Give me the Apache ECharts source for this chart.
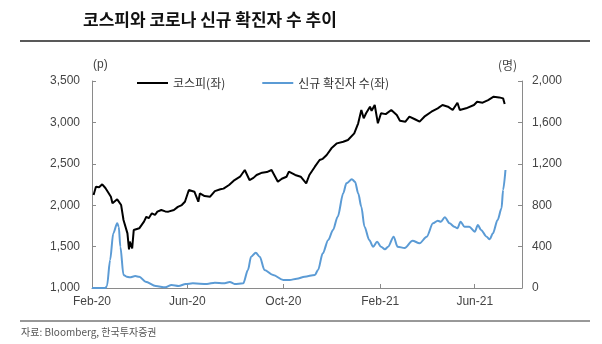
<!DOCTYPE html>
<html>
<head>
<meta charset="utf-8">
<script src="https://cdn.jsdelivr.net/npm/echarts@6/dist/echarts.min.js"></script>
<style>
  html, body { margin: 0; padding: 0; background: #fff; }
  #chart { width: 602px; height: 344px; }
</style>
</head>
<body>
<div id="chart"></div>
<script>
// KOSPI closing level (p)
const kospiDates = [
  '2020-02-03','2020-02-06','2020-02-10','2020-02-14','2020-02-18','2020-02-21','2020-02-25','2020-02-27',
  '2020-03-04','2020-03-09','2020-03-12','2020-03-17','2020-03-19','2020-03-20','2020-03-23','2020-03-25',
  '2020-03-27','2020-04-01','2020-04-07','2020-04-10','2020-04-13','2020-04-17','2020-04-21','2020-04-24',
  '2020-04-29','2020-05-04','2020-05-08','2020-05-15','2020-05-20','2020-05-25','2020-05-29','2020-06-03',
  '2020-06-10','2020-06-15','2020-06-17','2020-06-23','2020-06-30','2020-07-06','2020-07-13','2020-07-17',
  '2020-07-24','2020-07-31','2020-08-07','2020-08-13','2020-08-19','2020-08-24','2020-08-28','2020-09-04',
  '2020-09-10','2020-09-16','2020-09-24','2020-09-29','2020-10-05','2020-10-08','2020-10-16','2020-10-23',
  '2020-10-30','2020-11-03','2020-11-10','2020-11-16','2020-11-20','2020-11-25','2020-12-01','2020-12-08',
  '2020-12-16','2020-12-22','2020-12-30','2021-01-04','2021-01-08','2021-01-11','2021-01-14','2021-01-19',
  '2021-01-21','2021-01-25','2021-01-29','2021-02-02','2021-02-08','2021-02-15','2021-02-22','2021-02-26',
  '2021-03-05','2021-03-10','2021-03-17','2021-03-23','2021-03-29','2021-04-07','2021-04-15','2021-04-21',
  '2021-04-28','2021-05-04','2021-05-10','2021-05-13','2021-05-21','2021-05-31','2021-06-04','2021-06-11',
  '2021-06-18','2021-06-25','2021-07-02','2021-07-07','2021-07-09'
];
const kospiValues = [
  2123, 2223, 2216, 2252, 2208, 2163, 2103, 2023,
  2071, 2002, 1821, 1660, 1467, 1560, 1479, 1700,
  1680, 1721, 1801, 1861, 1842, 1902, 1882, 1922,
  1942, 1925, 1922, 1942, 1980, 2002, 2042, 2184,
  2163, 2042, 2143, 2110, 2103, 2170, 2192, 2200,
  2244, 2304, 2344, 2425, 2304, 2330, 2365, 2393,
  2400, 2425, 2284, 2320, 2344, 2405, 2365, 2344,
  2264, 2365, 2465, 2546, 2560, 2606, 2687, 2747,
  2767, 2787, 2868, 2989, 3149, 3049, 3110, 3190,
  3140, 3210, 2989, 3110, 3100, 3149, 3089, 3020,
  3009, 3069, 3038, 3009, 3069, 3129, 3170, 3210,
  3190, 3149, 3238, 3149, 3170, 3210, 3250, 3238,
  3270, 3310, 3302, 3290, 3222
];

// Daily new confirmed COVID-19 cases (persons)
const caseDates = [
  '2020-02-01','2020-02-18','2020-02-20','2020-02-24','2020-02-28','2020-03-04','2020-03-06','2020-03-08',
  '2020-03-12','2020-03-16','2020-03-20','2020-03-27','2020-04-01','2020-04-09','2020-04-22','2020-05-04',
  '2020-05-12','2020-05-21','2020-05-30','2020-06-08','2020-06-26','2020-07-06','2020-07-17','2020-07-25',
  '2020-07-31','2020-08-11','2020-08-17','2020-08-21','2020-08-27','2020-09-01','2020-09-07','2020-09-18',
  '2020-10-01','2020-10-09','2020-10-18','2020-10-28','2020-11-10','2020-11-14','2020-11-20','2020-11-27',
  '2020-12-03','2020-12-09','2020-12-16','2020-12-20','2020-12-27','2020-12-31','2021-01-04','2021-01-08',
  '2021-01-12','2021-01-18','2021-01-23','2021-01-28','2021-02-02','2021-02-07','2021-02-11','2021-02-18',
  '2021-02-23','2021-03-04','2021-03-14','2021-03-23','2021-04-01','2021-04-09','2021-04-15','2021-04-19',
  '2021-04-24','2021-04-30','2021-05-06','2021-05-10','2021-05-14','2021-05-19','2021-05-25','2021-06-01',
  '2021-06-05','2021-06-09','2021-06-16','2021-06-20','2021-06-24','2021-06-30','2021-07-05','2021-07-07',
  '2021-07-10'
];
const caseValues = [
  0, 0, 20, 270, 528, 625, 592, 399,
  126, 109, 103, 115, 109, 61, 19, 7,
  29, 19, 39, 45, 39, 51, 45, 58,
  39, 45, 174, 302, 341, 302, 174, 126,
  77, 77, 90, 109, 126, 174, 335, 464,
  560, 689, 915, 1011, 1050, 1027, 915, 785,
  592, 464, 399, 447, 399, 374, 399, 496,
  399, 386, 457, 432, 496, 625, 650, 640,
  683, 625, 592, 577, 640, 592, 592, 544,
  609, 560, 496, 470, 528, 657, 770, 947,
  1140
];

// Axis ticks and labels
const leftTicks = [1000, 1500, 2000, 2500, 3000, 3500];
const rightTicks = [0, 400, 800, 1200, 1600, 2000];
const monthTicks = ['2020-02-01', '2020-06-01', '2020-10-01', '2021-02-01', '2021-06-01'];
const monthLabels = ['Feb-20', 'Jun-20', 'Oct-20', 'Feb-21', 'Jun-21'];

const seriesNames = ['코스피(좌)', '신규 확진자 수(좌)'];
const titleText = '코스피와 코로나 신규 확진자 수 추이';
const sourceText = '자료: Bloomberg, 한국투자증권';

const ts = d => new Date(d + 'T00:00:00Z').getTime();
const monthTickTs = monthTicks.map(ts);
const labelOf = {};
monthTickTs.forEach((t, i) => { labelOf[t] = monthLabels[i]; });

const FONT = 'Liberation Sans, Arial, "Noto Sans CJK KR", sans-serif';
const KFONT = '"Noto Sans CJK KR", sans-serif';
const AXIS_GREY = '#8a8a8a';
const TEXT_GREY = '#444';

const chart = echarts.init(document.getElementById('chart'), null, { renderer: 'canvas' });

chart.setOption({
  animation: false,
  backgroundColor: '#fff',
  grid: { left: 92, right: 80, top: 81, bottom: 56 },
  legend: {
    left: 132, top: 72,
    itemWidth: 31, itemHeight: 2, itemGap: 37,
    icon: 'rect',
    textStyle: { fontFamily: KFONT, fontSize: 12, color: '#333' },
    data: seriesNames
  },
  xAxis: {
    type: 'value',
    min: ts('2020-02-01'),
    max: ts('2021-07-31'),
    axisLine: { show: true, lineStyle: { color: AXIS_GREY, width: 1 } },
    axisTick: { show: true, inside: true, length: 4, customValues: monthTickTs, lineStyle: { color: AXIS_GREY } },
    axisLabel: {
      customValues: monthTickTs,
      formatter: v => labelOf[v] || '',
      fontFamily: FONT, fontSize: 12, color: TEXT_GREY, margin: 8
    },
    splitLine: { show: false }
  },
  yAxis: [
    {
      type: 'value', position: 'left',
      min: leftTicks[0], max: leftTicks[leftTicks.length - 1], interval: 500,
      axisLine: { show: true, lineStyle: { color: AXIS_GREY, width: 1 } },
      axisTick: { show: true, inside: true, length: 4, lineStyle: { color: AXIS_GREY } },
      axisLabel: {
        formatter: v => v.toLocaleString('en-US'),
        fontFamily: FONT, fontSize: 12, color: TEXT_GREY, margin: 12
      },
      splitLine: { show: false }
    },
    {
      type: 'value', position: 'right',
      min: rightTicks[0], max: rightTicks[rightTicks.length - 1], interval: 400,
      axisLine: { show: true, lineStyle: { color: AXIS_GREY, width: 1 } },
      axisTick: { show: true, inside: true, length: 4, lineStyle: { color: AXIS_GREY } },
      axisLabel: {
        formatter: v => v.toLocaleString('en-US'),
        fontFamily: FONT, fontSize: 12, color: TEXT_GREY, margin: 10
      },
      splitLine: { show: false }
    }
  ],
  series: [
    {
      name: seriesNames[0], type: 'line', yAxisIndex: 0,
      data: kospiDates.map((d, i) => [ts(d), kospiValues[i]]),
      showSymbol: false, symbol: 'none',
      lineStyle: { color: '#000', width: 2 },
      itemStyle: { color: '#000' }
    },
    {
      name: seriesNames[1], type: 'line', yAxisIndex: 1,
      data: caseDates.map((d, i) => [ts(d), caseValues[i]]),
      showSymbol: false, symbol: 'none',
      smooth: 0.3, smoothMonotone: 'x',
      lineStyle: { color: '#5b9bd5', width: 2 },
      itemStyle: { color: '#5b9bd5' }
    }
  ],
  graphic: [
    { type: 'text', left: 83, top: 11,
      style: { text: titleText, fontFamily: KFONT, fontSize: 17, fontWeight: 'bold', fill: '#111' } },
    { type: 'line', shape: { x1: 20, y1: 41, x2: 590, y2: 41 },
      style: { stroke: '#222', lineWidth: 1.5 } },
    { type: 'text', left: 93, top: 59,
      style: { text: '(p)', fontFamily: FONT, fontSize: 12, fill: TEXT_GREY } },
    { type: 'text', left: 498, top: 59,
      style: { text: '(명)', fontFamily: KFONT, fontSize: 12, fill: TEXT_GREY } },
    { type: 'line', shape: { x1: 20, y1: 321, x2: 590, y2: 321 },
      style: { stroke: '#333', lineWidth: 1 } },
    { type: 'text', left: 21, top: 327,
      style: { text: sourceText, fontFamily: KFONT, fontSize: 10, fill: '#555' } }
  ]
});
</script>
</body>
</html>
